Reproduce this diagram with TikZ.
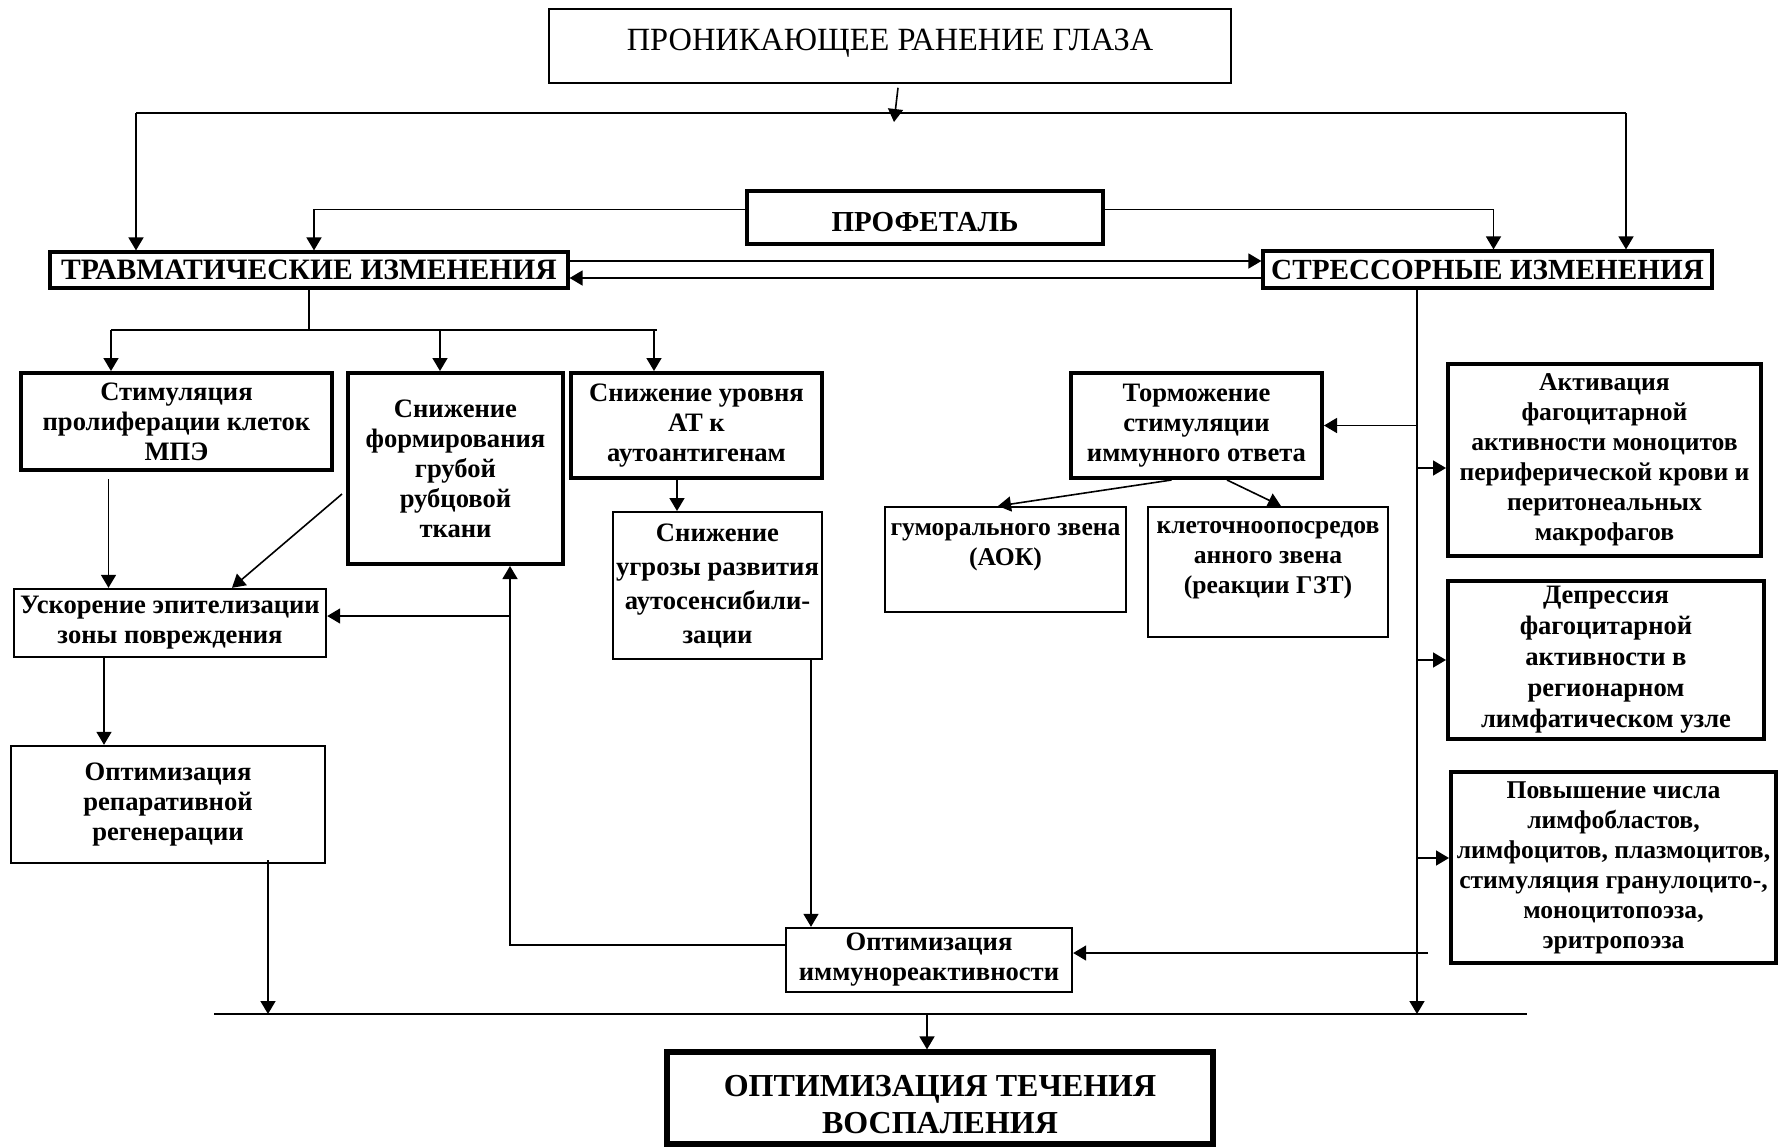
\documentclass[tikz,border=0pt]{standalone}
\usepackage{fontspec}
\setmainfont{Liberation Serif}
\usetikzlibrary{positioning}
\usetikzlibrary{arrows.meta}

\begin{document}
\begin{tikzpicture}[%
				x=0.5pt, y=-0.5pt,
				box/.style={draw, line width=1pt, align=center, inner sep=0pt,
					font=\fontsize{13.3}{15}\selectfont\bfseries},
				heavy/.style={box, line width=2pt},
				small/.style={font=\fontsize{12.8}{15}\selectfont\bfseries},
				link/.style={line width=0.8pt},
				arr/.style={link, -{Triangle[length=6.5pt, width=7.5pt]}}]
				\path[fill=white] (0,0) rectangle (1779,1147);
				\useasboundingbox (0,0) rectangle (1779,1147);

				% top of the scheme
				\node[box, line width=0.8pt, minimum width=341pt, minimum height=37pt,
					font=\fontsize{16.2}{18}\selectfont, text depth=6pt] (wound) at (890,46)
					{ПРОНИКАЮЩЕЕ РАНЕНИЕ ГЛАЗА};
				\node[heavy, line width=2.4pt, minimum width=178pt, minimum height=26.5pt,
					font=\fontsize{14.5}{17}\selectfont\bfseries, text height=14pt, text depth=0pt]
					(prof) at (925,217.5) {ПРОФЕТАЛЬ};
				\node[heavy, line width=1.6pt, minimum width=259pt, minimum height=18pt,
					font=\fontsize{14.8}{17}\selectfont\bfseries] (trauma) at (309,270)
					{ТРАВМАТИЧЕСКИЕ ИЗМЕНЕНИЯ};
				\node[heavy, line width=1.6pt, minimum width=224.5pt, minimum height=18.5pt,
					font=\fontsize{14.6}{17}\selectfont\bfseries] (stress) at (1487.5,269.5)
					{СТРЕССОРНЫЕ ИЗМЕНЕНИЯ};

				% left branch
				\node[heavy, minimum width=155.5pt, minimum height=48.5pt] (stim) at (176.5,421.5)
					{Стимуляция\\пролиферации клеток\\МПЭ};
				\node[heavy, minimum width=107.5pt, minimum height=95.5pt] (scar) at (455.5,468.5)
					{Снижение\\формирования\\грубой\\рубцовой\\ткани};
				\node[heavy, minimum width=125.5pt, minimum height=52.5pt] (atlev) at (696.5,425.5)
					{Снижение уровня\\АТ к\\аутоантигенам};
				\node[box, minimum width=104.5pt, minimum height=73.5pt,
					font=\fontsize{13.3}{17}\selectfont\bfseries] (autos) at (717.5,585.5)
					{Снижение\\угрозы развития\\аутосенсибили-\\зации};
				\node[box, line width=1.2pt, minimum width=156pt, minimum height=34pt] (epith) at (170,623)
					{Ускорение эпителизации\\зоны повреждения};
				\node[box, line width=1.2pt, minimum width=157pt, minimum height=58.5pt] (repar) at (168,804.5)
					{Оптимизация\\репаративной\\регенерации};
				\node[box, line width=1.2pt, minimum width=143pt, minimum height=32pt] (immopt) at (929,960)
					{Оптимизация\\иммунореактивности};
				\node[heavy, line width=2.6pt, minimum width=273pt, minimum height=46pt,
					font=\fontsize{16}{18.5}\selectfont\bfseries, text height=35.6pt, text depth=0pt]
					(final) at (940,1098) {ОПТИМИЗАЦИЯ ТЕЧЕНИЯ\\ВОСПАЛЕНИЯ};

				% right branch
				\node[heavy, minimum width=125.5pt, minimum height=52.5pt] (inhib) at (1196.5,425.5)
					{Торможение\\стимуляции\\иммунного ответа};
				\node[box, small, minimum width=120.5pt, minimum height=52.5pt] (humor) at (1005.5,559.5)
					{гуморального звена\\(АОК)\\ };
				\node[box, small, minimum width=120pt, minimum height=65pt] (cell) at (1268,572)
					{клеточноопосредов\\анного звена\\(реакции ГЗТ)\\ };
				\node[heavy, small, minimum width=156.5pt, minimum height=96pt] (activ) at (1604.5,460)
					{Активация\\фагоцитарной\\активности моноцитов\\периферической крови и\\перитонеальных\\макрофагов};
				\node[heavy, minimum width=158pt, minimum height=79pt,
					font=\fontsize{13.3}{15.5}\selectfont\bfseries] (depr) at (1606,660)
					{Депрессия\\фагоцитарной\\активности в\\регионарном\\лимфатическом узле};
				\node[heavy, small, minimum width=162.5pt, minimum height=95.5pt] (lymph) at (1613.5,867.5)
					{Повышение числа\\лимфобластов,\\лимфоцитов, плазмоцитов,\\стимуляция гранулоцито-,\\моноцитопоэза,\\эритропоэза};

				\coordinate (hub) at (894,122);
				\coordinate (busL) at (136,113);
				\coordinate (busR) at (1626,113);
				\coordinate (tbus) at (310,330);
				\coordinate (busW) at (214,1014);
				\coordinate (busE) at (1527,1014);
				\coordinate (sv) at ([xshift=-35.25pt]stress.south);
				\coordinate (sv2) at ([xshift=5.5pt]sv);
				\coordinate (loopup) at ([xshift=27.25pt]scar.south);
				\coordinate (epin) at ([yshift=3.5pt]epith.east);
				\coordinate (acin) at ([yshift=-4pt]activ.west);
				\coordinate (lyin) at ([yshift=4.75pt]lymph.west);
				\coordinate (imin) at ([yshift=3.5pt]immopt.east);

				% from the wound
				\draw[arr] ([xshift=4pt,yshift=-2pt]wound.south) -- (hub);
				\draw[link] (busL) -- (busR);
				\draw[arr] (busL) -- (busL |- trauma.north);
				\draw[arr] (busR) -- (busR |- stress.north);
				\draw[arr] ([yshift=4pt]prof.west) -| ([xshift=2.5pt]trauma.north);
				\draw[arr] ([yshift=4pt]prof.east) -| ([xshift=3pt]stress.north);
				\draw[arr] ([yshift=4.5pt]trauma.east) -- ([yshift=4.5pt]trauma.east -| stress.west);
				\draw[arr] ([yshift=-4pt]trauma.east -| stress.west) -- ([yshift=-4pt]trauma.east);

				% traumatic changes
				\draw[link] (trauma.south) -- (trauma.south |- tbus);
				\draw[link] (111,330) -- (657,330);
				\draw[arr] (111,330) -- (111,330 |- stim.north);
				\draw[arr] (440,330) -- (440,330 |- scar.north);
				\draw[arr] (654,330) -- (654,330 |- atlev.north);
				\draw[arr] ([xshift=-9.75pt]atlev.south) -- ([xshift=-9.75pt]atlev.south |- autos.north);
				\draw[arr] ([xshift=-34pt,yshift=-3.5pt]stim.south) -- ([xshift=-34pt]stim.south |- epith.north);
				\draw[arr] ([xshift=-2pt,yshift=-12.75pt]scar.west) -- ([xshift=31pt]epith.north);
				\draw[arr] ([yshift=7.5pt]immopt.west) -| (loopup);
				\draw[arr] (loopup |- epin) -- (epin);
				\draw[arr] ([xshift=-33pt]epith.south) -- ([xshift=-33pt]epith.south |- repar.north);
				\draw[arr] ([xshift=50pt,yshift=2pt]repar.south) -- ([xshift=50pt]repar.south |- busW);
				\draw[arr] ([xshift=46.75pt]autos.south) -- ([xshift=46.75pt]autos.south |- immopt.north);

				% stress changes
				\draw[arr] (sv) -- (sv |- busE);
				\draw[arr] (sv |- inhib.east) -- (inhib.east);
				\draw[arr] (sv |- acin) -- (acin);
				\draw[arr] (sv |- depr.west) -- (depr.west);
				\draw[arr] (sv |- lyin) -- (lyin);
				\draw[arr] (sv2 |- imin) -- (imin);
				\draw[arr] ([xshift=-12.5pt]inhib.south) -- ([xshift=-3.75pt]humor.north);
				\draw[arr] ([xshift=15.25pt]inhib.south) -- ([xshift=6.5pt]cell.north);

				% outcome
				\draw[link, line width=1.1pt] (busW) -- (busE);
				\draw[arr] ([xshift=-6.5pt]final.north |- busW) -- ([xshift=-6.5pt]final.north);
		\end{tikzpicture}
\end{document}
